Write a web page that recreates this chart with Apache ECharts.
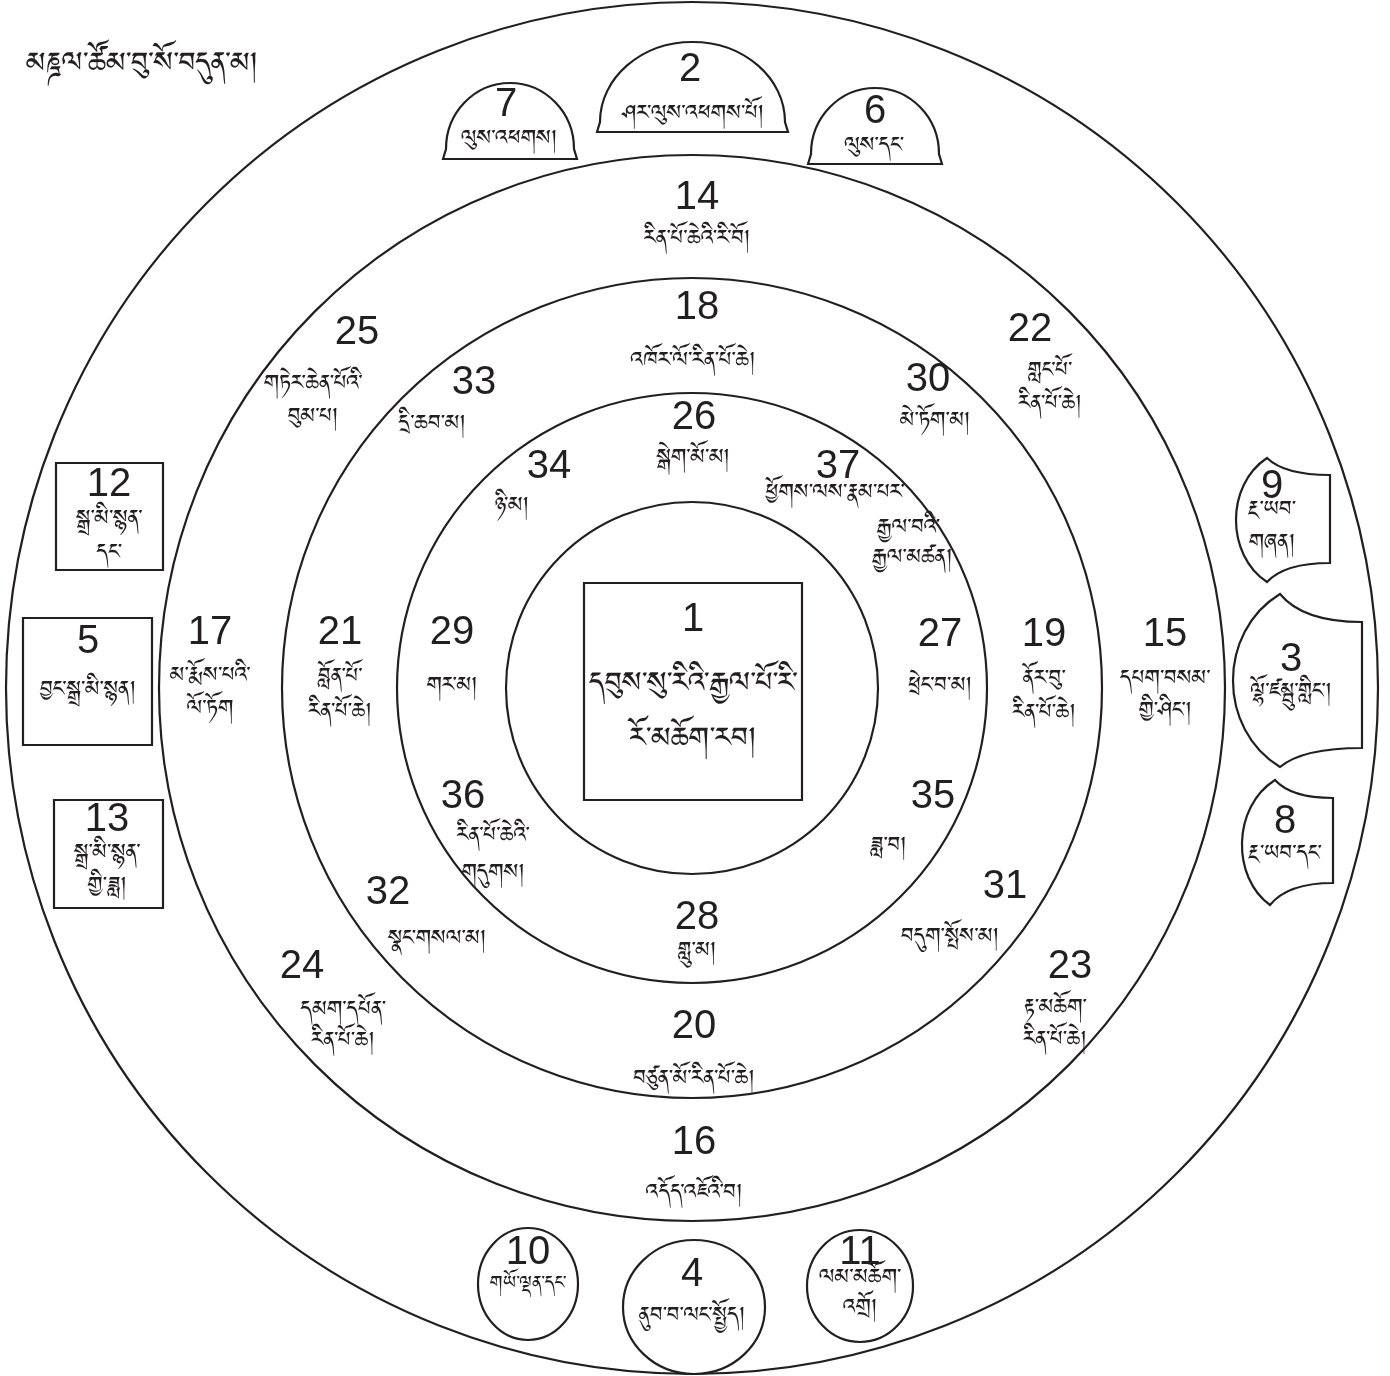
<!DOCTYPE html>
<html><head><meta charset="utf-8">
<script src="https://cdn.jsdelivr.net/npm/echarts@6/dist/echarts.min.js"></script>
<style>html,body{margin:0;padding:0;background:#fff}#c{width:1390px;height:1376px}</style>
</head><body><div id="c"></div>
<script>
// ---------- data ----------
const titleText = 'མཎྜལ་ཚོམ་བུ་སོ་བདུན་མ།';
const heapNumbers = [1,2,3,4,5,6,7,8,9,10,11,12,13,14,15,16,17,18,19,20,21,22,23,24,25,26,27,28,29,30,31,32,33,34,35,36,37];
const heapNames = [
  'དབུས་སུ་རིའི་རྒྱལ་པོ་རི་\nརོ་མཆོག་རབ།',
  'ཤར་ལུས་འཕགས་པོ།',
  'ལྷོ་ཛམྦུ་གླིང་།',
  'ནུབ་བ་ལང་སྤྱོད།',
  'བྱང་སྒྲ་མི་སྙན།',
  'ལུས་དང་',
  'ལུས་འཕགས།',
  'རྔ་ཡབ་དང་',
  'རྔ་ཡབ་\nགཞན།',
  'གཡོ་ལྡན་དང་',
  'ལམ་མཆོག་\nའགྲོ།',
  'སྒྲ་མི་སྙན་\nདང་',
  'སྒྲ་མི་སྙན་\nགྱི་ཟླ།',
  'རིན་པོ་ཆེའི་རི་བོ།',
  'དཔག་བསམ་\nགྱི་ཤིང་།',
  'འདོད་འཇོའི་བ།',
  'མ་རྨོས་པའི་\nལོ་ཏོག',
  'འཁོར་ལོ་རིན་པོ་ཆེ།',
  'ནོར་བུ་\nརིན་པོ་ཆེ།',
  'བཙུན་མོ་རིན་པོ་ཆེ།',
  'བློན་པོ་\nརིན་པོ་ཆེ།',
  'གླང་པོ་\nརིན་པོ་ཆེ།',
  'རྟ་མཆོག་\nརིན་པོ་ཆེ།',
  'དམག་དཔོན་\nརིན་པོ་ཆེ།',
  'གཏེར་ཆེན་པོའི་\nབུམ་པ།',
  'སྒེག་མོ་མ།',
  'ཕྲེང་བ་མ།',
  'གླུ་མ།',
  'གར་མ།',
  'མེ་ཏོག་མ།',
  'བདུག་སྤོས་མ།',
  'སྣང་གསལ་མ།',
  'དྲི་ཆབ་མ།',
  'ཉི་མ།',
  'ཟླ་བ།',
  'རིན་པོ་ཆེའི་\nགདུགས།',
  'ཕྱོགས་ལས་རྣམ་པར་\nརྒྱལ་བའི་\nརྒྱལ་མཚན།'
];
// ring radii of the concentric circles (diagram units = px)
const ringRadii = [186, 295, 410, 533, 686];
const mandalaCenter = [692, 688];

// ---------- layout (anchor points in diagram units) ----------
const numberAnchors = [
  [693,620],[690,70],[1291,660],[692,1275],[88,642],[875,112],[506,105],[1285,822],[1272,487],[528,1253],
  [860,1253],[109,485],[107,820],[697,198],[1165,635],[694,1143],[210,633],[697,308],[1044,635],[694,1027],
  [340,633],[1030,330],[1070,967],[302,967],[357,333],[694,418],[940,635],[697,918],[452,633],[928,380],
  [1005,887],[388,893],[474,383],[549,467],[933,797],[463,797],[838,467]
];
const textAnchors = [
  [[693,690],[693,745]],[[693,118]],[[1291,696]],[[692,1320]],[[88,694]],[[874,150]],[[509,143]],[[1285,858]],
  [[1272,514],[1272,547]],[[528,1287]],[[860,1282],[860,1312]],[[109,523],[109,557]],[[107,857],[107,890]],
  [[697,243]],[[1165,683],[1165,715]],[[694,1197]],[[210,680],[210,713]],[[693,365]],[[1044,683],[1044,717]],
  [[694,1083]],[[340,681],[340,716]],[[1050,375],[1050,408]],[[1055,1012],[1055,1044]],[[343,1014],[343,1045]],
  [[313,388],[313,421]],[[693,462]],[[940,690]],[[697,955]],[[452,690]],[[935,425]],[[950,941]],[[437,943]],
  [[432,428]],[[512,510]],[[888,850]],[[493,840],[493,877]],[[835,497],[908,532],[912,562]]
];
const boxes = [[584,583,802,800],[56,463,163,570],[23,618,152,745],[54,800,163,908]];
const domes = [[597,788,132,42],[443,577,159,83],[808,942,164,88]]; // left,right,base,top
const shields = [ // top, topRight, bottomRight, bottom, leftmost
  [[1267,458],[1330,475],[1330,563],[1267,582],[1236,520]],
  [[1280,594],[1362,622],[1362,748],[1280,767],[1233,683]],
  [[1275,780],[1333,798],[1333,883],[1270,905],[1242,840]]
];
const ovals = [[528,1284,50,56],[694,1307,71,67],[860,1286,53,56]]; // cx,cy,rx,ry

// ---------- styles ----------
const INK = '#231f20';
const LINE = {fill: 'none', stroke: INK, lineWidth: 2.2};
const NUM_FONT = '40px "Liberation Sans", Arial, sans-serif';
const TIB_FAMILY = '"Noto Sans Tibetan", Jomolhari, "DejaVu Sans", "Noto Sans", sans-serif';
const TIB_SIZE = 27, CENTER_SIZE = 36, TITLE_SIZE = 36, SMALL_SIZE = 23;

const chart = echarts.init(document.getElementById('c'), null, {renderer: 'canvas'});

function ellipsePath(api, cx, cy, rx, ry) {
  const c = api.coord([cx, cy]);
  const s = api.size([rx, ry]);
  const x0 = c[0] - s[0], x1 = c[0] + s[0];
  return `M${x0} ${c[1]} A${s[0]} ${s[1]} 0 1 0 ${x1} ${c[1]} A${s[0]} ${s[1]} 0 1 0 ${x0} ${c[1]} Z`;
}

const option = {
  animation: false,
  backgroundColor: '#fff',
  grid: {left: 0, right: 0, top: 0, bottom: 0},
  xAxis: {type: 'value', min: 0, max: 1390, show: false},
  yAxis: {type: 'value', min: 0, max: 1376, inverse: true, show: false},
  series: [
    { // concentric rings
      type: 'custom', coordinateSystem: 'cartesian2d', silent: true,
      data: ringRadii.map(r => [mandalaCenter[0], mandalaCenter[1], r]),
      renderItem: (p, api) => ({
        type: 'path',
        shape: {pathData: ellipsePath(api, api.value(0), api.value(1), api.value(2), api.value(2))},
        style: LINE
      })
    },
    { // boxes
      type: 'custom', coordinateSystem: 'cartesian2d', silent: true,
      data: boxes,
      renderItem: (p, api) => {
        const a = api.coord([api.value(0), api.value(1)]);
        const b = api.coord([api.value(2), api.value(3)]);
        return {type: 'rect', shape: {x: a[0], y: a[1], width: b[0] - a[0], height: b[1] - a[1]}, style: LINE};
      }
    },
    { // domes
      type: 'custom', coordinateSystem: 'cartesian2d', silent: true,
      data: domes,
      renderItem: (p, api) => {
        const L = api.value(0), R = api.value(1), base = api.value(2), top = api.value(3);
        const cx = (L + R) / 2, k = 0.5523;
        const yb = base - 10, rx = (R - L) / 2 - 3, ry = yb - top;
        const P = (x, y) => api.coord([x, y]).join(' ');
        const d = `M${P(L, base)} L${P(L + 3, yb)} C${P(L + 3, yb - k * ry)} ${P(cx - k * rx, top)} ${P(cx, top)} ` +
                  `C${P(cx + k * rx, top)} ${P(R - 3, yb - k * ry)} ${P(R - 3, yb)} L${P(R, base)} Z`;
        return {type: 'path', shape: {pathData: d}, style: LINE};
      }
    },
    { // shield shapes
      type: 'custom', coordinateSystem: 'cartesian2d', silent: true,
      data: shields.map((s, i) => [s[0][0], s[0][1], i]),
      renderItem: (p, api) => {
        const s = shields[api.value(2)];
        const [T, TR, BR, B, Lm] = s;
        const P = (x, y) => api.coord([x, y]).join(' ');
        const X = (Lm[0] - 0.125 * (B[0] + T[0])) / 0.75;
        const h = B[1] - T[1];
        const d = `M${P(T[0], T[1])} Q${P(T[0] + (TR[0] - T[0]) * 0.28, TR[1])} ${P(TR[0], TR[1])} ` +
                  `L${P(BR[0], BR[1])} Q${P(B[0] + (BR[0] - B[0]) * 0.28, BR[1])} ${P(B[0], B[1])} ` +
                  `C${P(X, B[1] - h * 0.22)} ${P(X, T[1] + h * 0.22)} ${P(T[0], T[1])} Z`;
        return {type: 'path', shape: {pathData: d}, style: LINE};
      }
    },
    { // ovals
      type: 'custom', coordinateSystem: 'cartesian2d', silent: true,
      data: ovals,
      renderItem: (p, api) => ({
        type: 'path',
        shape: {pathData: ellipsePath(api, api.value(0), api.value(1), api.value(2), api.value(3))},
        style: Object.assign({}, LINE, {fill: '#fff'})
      })
    },
    { // labels
      type: 'custom', coordinateSystem: 'cartesian2d', silent: true,
      data: heapNumbers.map((n, i) => [numberAnchors[i][0], numberAnchors[i][1], i]),
      renderItem: (p, api) => {
        const i = api.value(2);
        const c = api.coord([api.value(0), api.value(1)]);
        const children = [{
          type: 'text',
          style: {x: c[0], y: c[1], text: String(heapNumbers[i]), font: NUM_FONT, fill: INK, align: 'center', verticalAlign: 'middle'}
        }];
        const lines = heapNames[i].split('\n');
        const size = i === 0 ? CENTER_SIZE : (heapNumbers[i] === 10 ? SMALL_SIZE : TIB_SIZE);
        lines.forEach((ln, j) => {
          const q = api.coord(textAnchors[i][j]);
          children.push({
            type: 'text',
            style: {x: q[0], y: q[1], text: ln, font: `${size}px ${TIB_FAMILY}`, fill: INK, align: 'center', verticalAlign: 'middle'}
          });
        });
        return {type: 'group', children};
      }
    },
    { // title
      type: 'custom', coordinateSystem: 'cartesian2d', silent: true,
      data: [[258, 70]],
      renderItem: (p, api) => {
        const c = api.coord([api.value(0), api.value(1)]);
        return {type: 'text', style: {x: c[0], y: c[1], text: titleText, font: `${TITLE_SIZE}px ${TIB_FAMILY}`, fill: INK, align: 'right', verticalAlign: 'middle'}};
      }
    }
  ]
};
chart.setOption(option);
</script>
</body></html>
